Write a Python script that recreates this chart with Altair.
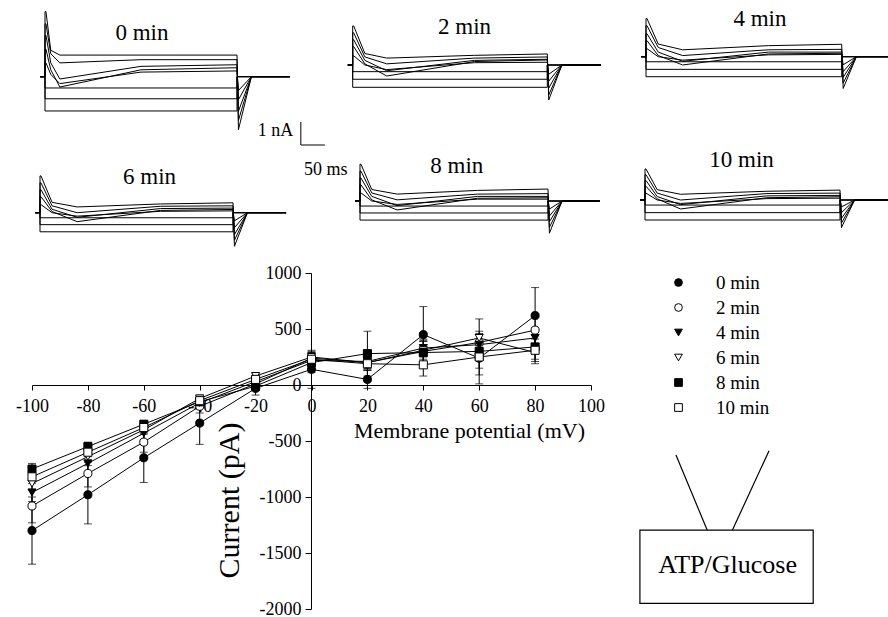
import altair as alt
import pandas as pd

FONT = "Liberation Serif"
W, H = 888, 617

# ---------------- I-V data ----------------
voltages = [-100, -80, -60, -40, -20, 0, 20, 40, 60, 80]
series_names = ["0 min", "2 min", "4 min", "6 min", "8 min", "10 min"]

cur_0 = [-1300, -980, -650, -340, -30, 140, 50, 450, 240, 620]
cur_2 = [-1080, -790, -510, -190, 10, 240, 200, 300, 380, 490]
cur_4 = [-960, -700, -430, -160, 30, 220, 210, 330, 360, 420]
cur_6 = [-880, -640, -400, -120, 80, 250, 200, 310, 420, 290]
cur_8 = [-750, -550, -350, -150, -10, 200, 280, 290, 300, 340]
cur_10 = [-820, -600, -380, -140, 50, 230, 190, 180, 250, 310]

sem_0 = [300, 260, 220, 190, 60, 170, 80, 250, 150, 250]
sem_2 = [150, 120, 90, 60, 40, 60, 60, 100, 80, 120]
sem_4 = [80, 70, 60, 40, 30, 50, 60, 80, 90, 80]
sem_6 = [60, 50, 40, 30, 30, 40, 50, 80, 60, 60]
sem_8 = [50, 40, 30, 30, 40, 90, 200, 100, 290, 150]
sem_10 = [40, 40, 30, 30, 30, 40, 60, 100, 100, 100]

shapes = ["circle", "circle", "triangle-down", "triangle-down", "square", "square"]
fills = ["black", "white", "black", "white", "black", "white"]

# annotation (in I-V data units)
box_v = [117.5, 179.5]
box_i = [-1295, -1950]
box_label = "ATP/Glucose"
box_label_pos = [148.9, -1607]
callout_v1 = [130.4, 163.7]
callout_i1 = [-625, -587]
callout_v2 = [142.3, 150.6]
callout_i2 = [-1339, -1295]

# ---------------- current traces (nA vs ms) ----------------
STEP_MS = 400
PRE_MS = 10
POST_MS = 510

panel_names = ["0 min", "2 min", "4 min", "6 min", "8 min", "10 min"]
flat_levels = [
    [-1.49, -0.96, -0.49],
    [-0.97, -0.62, -0.29],
    [-0.87, -0.55, -0.22],
    [-0.83, -0.52, -0.22],
    [-0.83, -0.52, -0.22],
    [-0.87, -0.55, -0.22],
]
peaks = [
    [2.83, 2.3, 1.8, 1.2, 0.6],
    [1.7, 1.4, 1.1, 0.8, 0.4],
    [1.66, 1.35, 1.0, 0.7, 0.35],
    [1.6, 1.3, 1.0, 0.7, 0.35],
    [1.6, 1.3, 1.0, 0.7, 0.35],
    [1.35, 1.1, 0.85, 0.6, 0.3],
]
halfs = [
    [1.15, 1.0, 0.6, 0.3, 0.1],
    [0.5, 0.35, 0.2, 0.05, 0.0],
    [0.55, 0.4, 0.2, 0.05, 0.0],
    [0.45, 0.3, 0.15, 0.05, 0.0],
    [0.5, 0.35, 0.2, 0.05, 0.0],
    [0.45, 0.3, 0.15, 0.05, 0.0],
]
dips = [
    [0.94, 0.6, -0.1, -0.45, -0.3],
    [0.3, 0.05, -0.25, -0.48, -0.2],
    [0.3, 0.05, -0.2, -0.36, -0.15],
    [0.25, 0.0, -0.2, -0.39, -0.15],
    [0.3, 0.05, -0.2, -0.39, -0.15],
    [0.25, 0.0, -0.2, -0.39, -0.15],
]
recs = [
    [0.94, 0.74, 0.45, 0.3, 0.2],
    [0.42, 0.3, 0.2, 0.15, 0.1],
    [0.48, 0.3, 0.2, 0.12, 0.08],
    [0.38, 0.28, 0.18, 0.1, 0.06],
    [0.46, 0.3, 0.2, 0.12, 0.08],
    [0.38, 0.28, 0.18, 0.1, 0.06],
]
steady = [
    [0.94, 0.74, 0.52, 0.39, 0.25],
    [0.48, 0.35, 0.25, 0.22, 0.12],
    [0.54, 0.32, 0.2, 0.15, 0.1],
    [0.43, 0.3, 0.2, 0.14, 0.08],
    [0.52, 0.32, 0.2, 0.14, 0.08],
    [0.43, 0.3, 0.2, 0.14, 0.08],
]
tails = [
    [-2.3, -1.9, -1.5, -1.0, -0.6],
    [-1.52, -1.3, -1.0, -0.7, -0.4],
    [-1.38, -1.15, -0.9, -0.65, -0.35],
    [-1.46, -1.2, -0.95, -0.65, -0.35],
    [-1.4, -1.15, -0.9, -0.65, -0.35],
    [-1.2, -1.0, -0.8, -0.55, -0.3],
]
t_half = [12, 25, 25, 25, 25, 25]
t_dip = [31, 70, 75, 77, 79, 73]
t_rec = [200, 250, 250, 250, 250, 250]
title_t = [202, 230, 233, 227, 206, 198]
title_i = [1.90, 1.65, 1.63, 1.57, 1.52, 1.74]

# scale bar (in 0 min panel units)
bar_t = [533, 583]
bar_i = [-1.97, -2.97]
bar_label_nA = ("1 nA", 517, -2.37)
bar_label_ms = ("50 ms", 585, -4.06)

# ---------------- layout (pixels) ----------------
IV_XRANGE = [32, 591]
IV_YRANGE = [609, 273]
panel_x0 = [45, 352.7, 646, 40, 360, 645]
panel_x1 = [237, 547.3, 841.7, 233, 548, 840]
panel_base = [76.7, 65, 56.7, 212.7, 201, 200]
PX_PER_NA = 23

# ---------------- build I-V chart ----------------
curs = [cur_0, cur_2, cur_4, cur_6, cur_8, cur_10]
sems = [sem_0, sem_2, sem_4, sem_6, sem_8, sem_10]
rows, caps = [], []
for name, c, s in zip(series_names, curs, sems):
    for v, ci, si in zip(voltages, c, s):
        rows.append({"v": v, "cur": ci, "lo": ci - si, "hi": ci + si, "series": name})
        caps.append({"v": v, "cur": ci - si, "series": name})
        caps.append({"v": v, "cur": ci + si, "series": name})
iv = pd.DataFrame(rows)
cap_df = pd.DataFrame(caps)

xs = alt.Scale(domain=[-100, 100], range=IV_XRANGE, nice=False, zero=False)
ys = alt.Scale(domain=[-2000, 1000], range=IV_YRANGE, nice=False, zero=False)
xaxis = alt.Axis(
    values=list(range(-100, 101, 20)), labelExpr="'' + datum.value",
    offset=-(H - 385), grid=False, domainColor="black", tickColor="black",
    tickSize=5, labelFont=FONT, labelFontSize=18, labelColor="black",
    labelPadding=7, labelFlush=False, labelOverlap=False,
    titleFont=FONT, titleFontSize=22, titleFontWeight="normal", titleColor="black",
    titleX=469, titleY=45, titleAlign="center", titleBaseline="middle",
)
yaxis = alt.Axis(
    values=list(range(-2000, 1001, 500)), labelExpr="'' + datum.value",
    offset=-311, grid=False, domainColor="black", tickColor="black",
    tickSize=6, labelFont=FONT, labelFontSize=18, labelColor="black",
    labelPadding=4, labelFlush=False, labelOverlap=False,
    titleFont=FONT, titleFontSize=30, titleFontWeight="normal", titleColor="black",
    titleX=-82, titleY=500, titleAlign="center", titleBaseline="middle", titleAngle=270,
)


def X(field):
    return alt.X(field, type="quantitative", scale=xs, axis=xaxis, title="Membrane potential (mV)")


def Y(field):
    return alt.Y(field, type="quantitative", scale=ys, axis=yaxis, title="Current (pA)")


leg = alt.Legend(
    orient="none", legendX=669, legendY=273, title=None, direction="vertical",
    labelFont=FONT, labelFontSize=19, labelColor="black", symbolSize=60,
    symbolStrokeWidth=1, rowPadding=5,
    labelOffset=28, padding=0,
)

lines = alt.Chart(iv).mark_line(color="black", strokeWidth=1).encode(
    x=X("v"), y=Y("cur"), detail="series:N")
errs = alt.Chart(iv).mark_rule(color="black", strokeWidth=1).encode(
    x=X("v"), y=Y("lo"), y2="hi")
capm = alt.Chart(cap_df).mark_tick(color="black", orient="horizontal", size=8, thickness=1).encode(
    x=X("v"), y=Y("cur"))
pts = alt.Chart(iv).mark_point(filled=True, strokeWidth=1, size=65, opacity=1).encode(
    x=X("v"), y=Y("cur"),
    shape=alt.Shape("series:N", scale=alt.Scale(domain=series_names, range=shapes), legend=leg),
    fill=alt.Fill("series:N", scale=alt.Scale(domain=series_names, range=fills), legend=leg),
    stroke=alt.Stroke("series:N", scale=alt.Scale(domain=series_names, range=["black"] * 6), legend=leg),
)

ann_lines = pd.DataFrame({"v": callout_v1, "cur": callout_i1, "v2": callout_v2, "cur2": callout_i2})
callouts = alt.Chart(ann_lines).mark_rule(color="black", strokeWidth=1.2).encode(
    x=X("v"), y=Y("cur"), x2="v2", y2="cur2")
box_df = pd.DataFrame({"v": [box_v[0]], "v2": [box_v[1]], "cur": [box_i[0]], "cur2": [box_i[1]]})
box = alt.Chart(box_df).mark_rect(fill="white", stroke="black", strokeWidth=1.2).encode(
    x=X("v"), x2="v2", y=Y("cur"), y2="cur2")
box_txt_df = pd.DataFrame({"v": [box_label_pos[0]], "cur": [box_label_pos[1]], "label": [box_label]})
box_txt = alt.Chart(box_txt_df).mark_text(font=FONT, fontSize=26, color="black").encode(
    x=X("v"), y=Y("cur"), text="label:N")

iv_group = alt.layer(lines, errs, capm, pts, callouts, box, box_txt)

# ---------------- build trace panels ----------------
panel_layers = []
for p, name in enumerate(panel_names):
    recs_rows = []
    sid = 0
    for lv in flat_levels[p]:
        pts_ = [(-PRE_MS, 0), (0, 0), (0, lv), (STEP_MS, lv), (STEP_MS, 0), (POST_MS, 0)]
        for k, (t, i) in enumerate(pts_):
            recs_rows.append({"t": t, "i": i, "sweep": sid, "idx": k})
        sid += 1
    for k in range(len(peaks[p])):
        pts_ = [(-PRE_MS, 0), (0, 0), (0, peaks[p][k]), (2, peaks[p][k]),
                (t_half[p], halfs[p][k]), (t_dip[p], dips[p][k]), (t_rec[p], recs[p][k]),
                (STEP_MS, steady[p][k]), (STEP_MS + 3, tails[p][k]), (STEP_MS + 30, 0),
                (POST_MS, 0)]
        for j, (t, i) in enumerate(pts_):
            recs_rows.append({"t": t, "i": i, "sweep": sid, "idx": j})
        sid += 1
    tr = pd.DataFrame(recs_rows)
    sx = alt.Scale(domain=[0, STEP_MS], range=[panel_x0[p], panel_x1[p]], nice=False, zero=False)
    sy = alt.Scale(domain=[0, 1], range=[panel_base[p], panel_base[p] - PX_PER_NA], nice=False, zero=False)

    def PX(f, sx=sx):
        return alt.X(f, type="quantitative", scale=sx, axis=None)

    def PY(f, sy=sy):
        return alt.Y(f, type="quantitative", scale=sy, axis=None)

    trace = alt.Chart(tr).mark_line(color="black", strokeWidth=1).encode(
        x=PX("t"), y=PY("i"), detail="sweep:N", order=alt.Order("idx:Q"))
    ttl = alt.Chart(pd.DataFrame({"t": [title_t[p]], "i": [title_i[p]], "label": [name]})).mark_text(
        font=FONT, fontSize=23, color="black").encode(x=PX("t"), y=PY("i"), text="label:N")
    layers = [trace, ttl]
    if p == 0:
        bars = pd.DataFrame({"t": [bar_t[0], bar_t[0]], "t2": [bar_t[0], bar_t[1]],
                             "i": [bar_i[0], bar_i[1]], "i2": [bar_i[1], bar_i[1]]})
        layers.append(alt.Chart(bars).mark_rule(color="black", strokeWidth=1).encode(
            x=PX("t"), x2="t2", y=PY("i"), y2="i2"))
        layers.append(alt.Chart(pd.DataFrame({"t": [bar_label_nA[1]], "i": [bar_label_nA[2]],
                                              "label": [bar_label_nA[0]]})).mark_text(
            font=FONT, fontSize=18, color="black", align="right").encode(
            x=PX("t"), y=PY("i"), text="label:N"))
        layers.append(alt.Chart(pd.DataFrame({"t": [bar_label_ms[1]], "i": [bar_label_ms[2]],
                                              "label": [bar_label_ms[0]]})).mark_text(
            font=FONT, fontSize=18, color="black", align="center").encode(
            x=PX("t"), y=PY("i"), text="label:N"))
    panel_layers.append(alt.layer(*layers))

chart = alt.layer(iv_group, *panel_layers).resolve_scale(
    x="independent", y="independent"
).properties(
    width=W, height=H, autosize="none", padding=0, background="white"
).configure_view(stroke=None)

chart.save("out.html", embed_options={"renderer": "svg", "actions": False})
